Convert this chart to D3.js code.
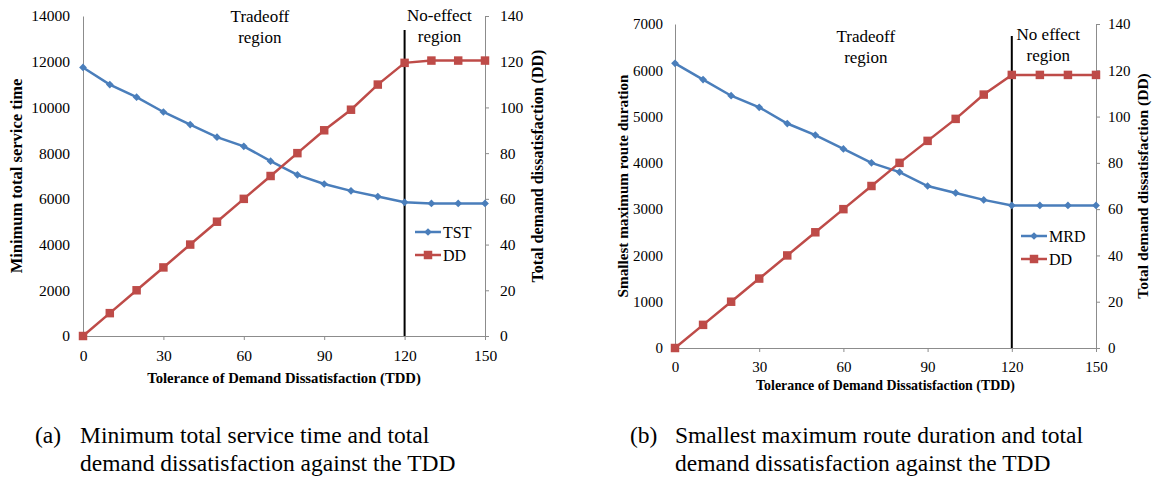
<!DOCTYPE html>
<html>
<head>
<meta charset="utf-8">
<script src="https://cdn.jsdelivr.net/npm/d3@7"></script>
<style>
  body { margin: 0; background: #fff; }
  svg text { font-family: "Liberation Serif", "DejaVu Serif", serif; }
  .axis path, .axis line { stroke: #8c8c8c; }
  .axis text { fill: #000; }
</style>
</head>
<body>
<div class="container"></div>
<script>
// data
const tdd = [0, 10, 20, 30, 40, 50, 60, 70, 80, 90, 100, 110, 120, 130, 140, 150];
const tst = [11750, 11000, 10450, 9800, 9250, 8700, 8300, 7650, 7050, 6650, 6350, 6100, 5850, 5800, 5800, 5800];
const ddA = [0, 10, 20, 30, 40, 50, 60, 70, 80, 90, 99, 110, 119.5, 120.5, 120.5, 120.5];
const mrd = [6150, 5800, 5450, 5200, 4850, 4600, 4300, 4000, 3800, 3500, 3350, 3200, 3080, 3080, 3080, 3080];
const ddB = [0, 10, 20, 30, 40, 50, 60, 70, 80, 89.5, 99, 109.5, 118, 118, 118, 118];
const xTicks = [0, 30, 60, 90, 120, 150];
const ddTicks = [0, 20, 40, 60, 80, 100, 120, 140];
const tstTicks = [0, 2000, 4000, 6000, 8000, 10000, 12000, 14000];
const mrdTicks = [0, 1000, 2000, 3000, 4000, 5000, 6000, 7000];
const boundary = 120;

const blue = "#4a7ebb";
const red = "#be4b48";
const serif = '"Liberation Serif", "DejaVu Serif", serif';

const svg = d3.select(".container").append("svg")
    .attr("width", 1159)
    .attr("height", 480);

function drawPanel(p) {
  const g = svg.append("g");

  const x = d3.scaleLinear().domain([0, 150]).range([p.left, p.right]);
  const yL = d3.scaleLinear().domain([0, p.yMax]).range([p.bottom, p.top]);
  const yR = d3.scaleLinear().domain([0, 140]).range([p.bottom, p.top]);

  //axes
  const axes = [
    g.append("g")
      .attr("transform", `translate(0, ${p.bottom})`)
      .call(d3.axisBottom(x).tickValues(xTicks).tickSize(4).tickSizeOuter(0).tickPadding(p.xPad)),
    g.append("g")
      .attr("transform", `translate(${p.left}, 0)`)
      .call(d3.axisLeft(yL).tickValues(p.yTicks).tickSize(0).tickPadding(p.yPad).tickFormat(d3.format("d"))),
    g.append("g")
      .attr("transform", `translate(${p.right}, 0)`)
      .call(d3.axisRight(yR).tickValues(ddTicks).tickSize(4).tickSizeOuter(4).tickPadding(p.rPad))
  ];
  axes.forEach(a => a.attr("class", "axis")
    .attr("font-family", serif)
    .attr("font-size", p.tickFont));

  //axis titles
  g.append("text")
    .attr("x", (p.left + p.right) / 2)
    .attr("y", p.xTitleY)
    .attr("text-anchor", "middle")
    .style("font-weight", "bold")
    .style("font-size", p.xTitleFont + "px")
    .text("Tolerance of Demand Dissatisfaction (TDD)");
  g.append("text")
    .attr("transform", `translate(${p.lTitleX}, ${p.lTitleY}) rotate(-90)`)
    .attr("text-anchor", "middle")
    .style("font-weight", "bold")
    .style("font-size", p.lTitleFont + "px")
    .text(p.yLabel);
  g.append("text")
    .attr("transform", `translate(${p.rTitleX}, ${p.rTitleY}) rotate(-90)`)
    .attr("text-anchor", "middle")
    .style("font-weight", "bold")
    .style("font-size", p.rTitleFont + "px")
    .text("Total demand dissatisfaction (DD)");

  //boundary line
  g.append("line")
    .attr("x1", x(boundary)).attr("x2", x(boundary))
    .attr("y1", p.lineTop).attr("y2", p.bottom)
    .attr("stroke", "#000")
    .attr("stroke-width", 2);

  //region labels
  p.regions.forEach(r => {
    const t = g.append("text")
      .attr("x", x(r.at))
      .attr("y", r.y)
      .attr("text-anchor", "middle")
      .style("font-size", "17px");
    r.lines.forEach((s, i) => t.append("tspan").attr("x", x(r.at)).attr("dy", i ? 21 : 0).text(s));
  });

  const line = d3.line().x((d, i) => x(tdd[i]));

  //series: time measure (left axis) and DD (right axis)
  g.append("path")
    .datum(p.series)
    .attr("fill", "none")
    .attr("stroke", blue)
    .attr("stroke-width", 2.5)
    .attr("d", line.y(d => yL(d)));
  g.append("path")
    .datum(p.dd)
    .attr("fill", "none")
    .attr("stroke", red)
    .attr("stroke-width", 2.5)
    .attr("d", line.y(d => yR(d)));

  const diamond = d3.symbol().type(d3.symbolSquare).size(30);
  const square = d3.symbol().type(d3.symbolSquare).size(72);

  g.selectAll(".dia")
    .data(p.series)
    .enter()
    .append("path")
    .attr("d", diamond)
    .attr("transform", (d, i) => `translate(${x(tdd[i])}, ${yL(d)}) rotate(45)`)
    .attr("fill", blue);
  g.selectAll(".sq")
    .data(p.dd)
    .enter()
    .append("path")
    .attr("d", square)
    .attr("transform", (d, i) => `translate(${x(tdd[i])}, ${yR(d)})`)
    .attr("fill", red);

  //legend
  const legend = [
    {name: p.name, color: blue, sym: diamond, rot: 45},
    {name: "DD", color: red, sym: square, rot: 0}
  ];
  legend.forEach((l, i) => {
    const ly = p.legY + i * 23;
    g.append("line")
      .attr("x1", p.legX).attr("x2", p.legX + 26)
      .attr("y1", ly).attr("y2", ly)
      .attr("stroke", l.color)
      .attr("stroke-width", 2.5);
    g.append("path")
      .attr("d", l.sym)
      .attr("transform", `translate(${p.legX + 13}, ${ly}) rotate(${l.rot})`)
      .attr("fill", l.color);
    g.append("text")
      .attr("x", p.legX + 28)
      .attr("y", ly + 5.5)
      .style("font-size", "16px")
      .text(l.name);
  });

  //caption
  const cap = g.append("text").style("font-size", "23.5px");
  cap.append("tspan").attr("x", p.capX).attr("y", 443).text(p.tag);
  cap.append("tspan").attr("x", p.capX + 45).attr("y", 443).text(p.caption[0]);
  cap.append("tspan").attr("x", p.capX + 45).attr("y", 471).text(p.caption[1]);
}

drawPanel({
  left: 83, right: 485, top: 16, bottom: 336,
  yMax: 14000, yTicks: tstTicks, series: tst, dd: ddA, name: "TST",
  yLabel: "Minimum total service time",
  tickFont: 15.5, xTitleFont: 14.7, lTitleFont: 16.5, rTitleFont: 16,
  xPad: 10, yPad: 13, rPad: 11,
  xTitleY: 383, lTitleX: 22, lTitleY: 176, rTitleX: 543, rTitleY: 166,
  lineTop: 30,
  regions: [
    {at: 66, y: 22, lines: ["Tradeoff", "region"]},
    {at: 133, y: 21, lines: ["No-effect", "region"]}
  ],
  legX: 415, legY: 232,
  capX: 35, tag: "(a)",
  caption: ["Minimum total service time and total", "demand dissatisfaction against the TDD"]
});

drawPanel({
  left: 675, right: 1096, top: 24, bottom: 348,
  yMax: 7000, yTicks: mrdTicks, series: mrd, dd: ddB, name: "MRD",
  yLabel: "Smallest maximum route duration",
  tickFont: 15, xTitleFont: 13.9, lTitleFont: 15.2, rTitleFont: 15.5,
  xPad: 9, yPad: 12, rPad: 8,
  xTitleY: 390, lTitleX: 628, lTitleY: 186, rTitleX: 1148, rTitleY: 186,
  lineTop: 36,
  regions: [
    {at: 68, y: 42, lines: ["Tradeoff", "region"]},
    {at: 133, y: 40, lines: ["No effect", "region"]}
  ],
  legX: 1021, legY: 236,
  capX: 630, tag: "(b)",
  caption: ["Smallest maximum route duration and total", "demand dissatisfaction against the TDD"]
});
</script>
</body>
</html>
